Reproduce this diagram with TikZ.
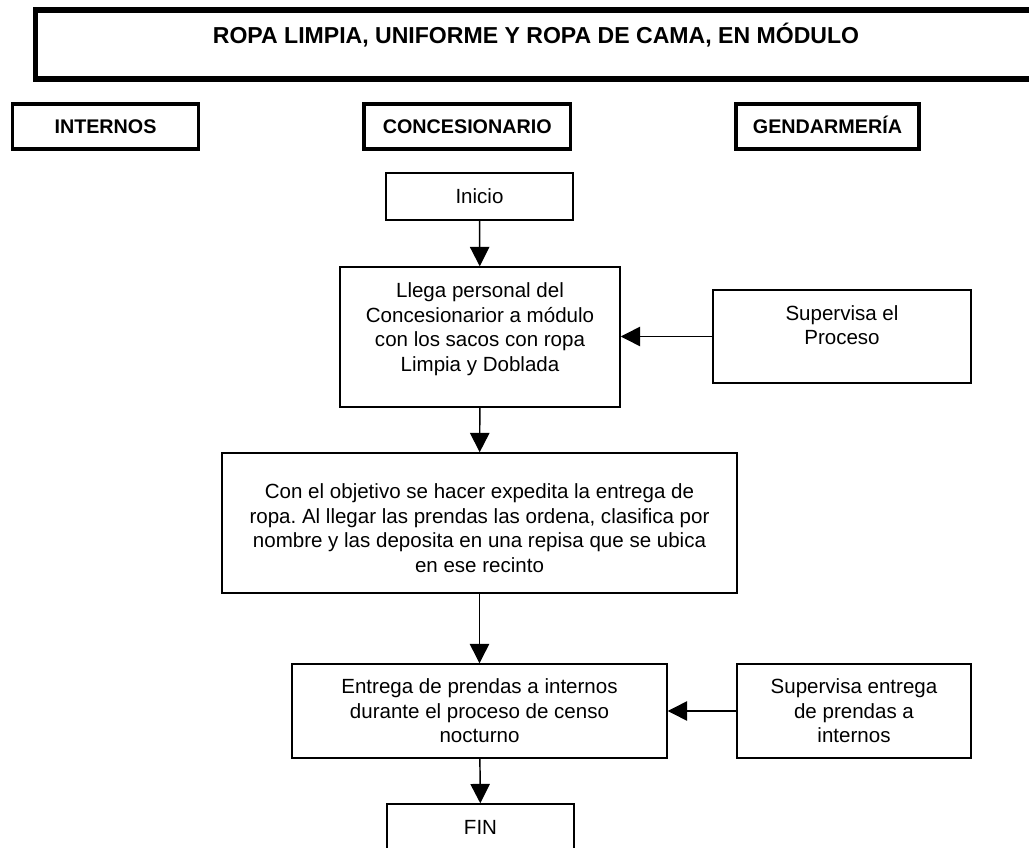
\documentclass[tikz,border=0pt]{standalone}
\usepackage{fontspec}
\setmainfont{Liberation Sans}
\usetikzlibrary{arrows.meta}
\frenchspacing

\begin{document}
\begin{tikzpicture}[x=0.75pt,y=-0.75pt,
    caja/.style={draw,line width=1.1pt,align=center,inner sep=0pt,font=\fontsize{15.4}{18.4}\selectfont},
    cabecera/.style={draw,line width=2.6pt,minimum height=33.75pt,inner sep=0pt,text height=10.6pt,text depth=0pt,font=\fontsize{14.8}{17}\selectfont\bfseries},
    flecha/.style={line width=1.1pt,-{Triangle[length=14.5pt,width=14.5pt]}}]
    \useasboundingbox (0,0) rectangle (1029,848);
    \clip (0,0) rectangle (1029,848);
    % titulo
    \draw[line width=4.1pt] (35.5,10) rectangle (1060,79);
    \node[font=\fontsize{17.3}{20}\selectfont\bfseries] (titulo) at (536,35) {ROPA LIMPIA, UNIFORME Y ROPA DE CAMA, EN MÓDULO};
    % columnas
    \node[cabecera,minimum width=139.5pt] (internos) at (105.5,126.7) {INTERNOS};
    \node[cabecera,minimum width=154.9pt] (concesionario) at (467.25,126.7) {CONCESIONARIO};
    \node[cabecera,minimum width=137.5pt] (gendarmeria) at (827.5,126.7) {GENDARMERÍA};
    % flujo
    \node[caja,minimum width=140.25pt,minimum height=35.25pt] (inicio) at (479.5,196.5) {Inicio};
    \node[caja,minimum width=210pt,minimum height=105pt,text depth=15pt] (llega) at (480,337)
        {Llega personal del\\Concesionarior a módulo\\con los sacos con ropa\\Limpia y Doblada};
    \node[caja,minimum width=193.5pt,minimum height=69.75pt,text depth=17pt] (supervisa) at (842,336.5)
        {Supervisa el\\Proceso};
    \node[caja,minimum width=386.25pt,minimum height=105pt] (ordena) at (479.5,523)
        {\rule{0pt}{18.7pt}Con el objetivo se hacer expedita la entrega de\\ropa. Al llegar las prendas las ordena, clasifica por\\nombre y las deposita en una repisa que se ubica\\en ese recinto};
    \node[caja,minimum width=281.25pt,minimum height=70.5pt] (entrega) at (479.5,711)
        {Entrega de prendas a internos\\durante el proceso de censo\\nocturno};
    \node[caja,minimum width=175.5pt,minimum height=70.5pt] (supentrega) at (854,711)
        {Supervisa entrega\\de prendas a\\internos};
    \node[caja,minimum width=140.25pt,minimum height=35.25pt] (fin) at (480.5,827.5) {FIN};
    % flechas
    \draw[flecha] (inicio) -- (llega);
    \draw[flecha] (llega) -- (ordena);
    \draw[flecha] (ordena) -- (entrega);
    \draw[flecha] (entrega) -- (fin);
    \draw[flecha] (supervisa.west) -- (supervisa.west -| llega.east);
    \draw[flecha] (supentrega) -- (entrega);
\end{tikzpicture}
\end{document}
